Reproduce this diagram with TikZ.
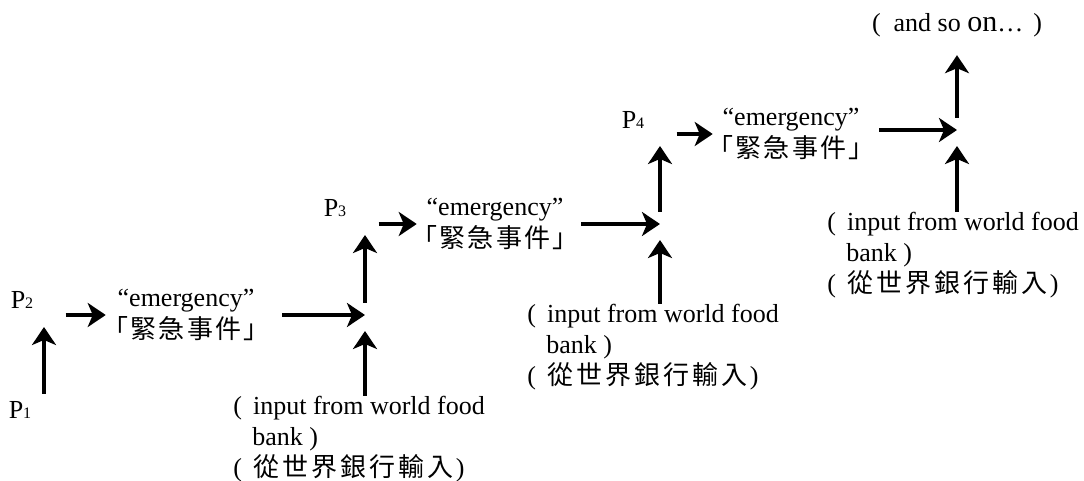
\documentclass[tikz,border=0pt]{standalone}
\usepackage{fontspec}
\setmainfont{Liberation Serif}
\newfontfamily\cjk[LetterSpace=9]{Noto Sans CJK TC}
\newfontfamily\cjkwide[LetterSpace=12]{Noto Sans CJK TC}
\usetikzlibrary{arrows.meta,positioning,calc}

\begin{document}
\begin{tikzpicture}[
    x=0.5pt, y=-0.5pt,
    arr/.style={-{Stealth[length=9pt, width=12pt, inset=2.5pt]}, line width=2pt},
    plabel/.style={font=\fontsize{13}{15}\selectfont, inner sep=1pt},
    event/.style={font=\fontsize{13}{16}\selectfont, align=center, inner sep=1pt},
    foodin/.style={font=\fontsize{13}{15.5}\selectfont, align=left, inner sep=0pt, anchor=north west},
]
\useasboundingbox (0,0) rectangle (1084,481);

\node[plabel] (p1) at (20,410) {P{\footnotesize 1}};
\node[plabel] (p2) at (22,300) {P{\footnotesize 2}};
\node[event] (em1) at (186,315) {“emergency”\\{\cjk 「緊急事件」}};
\coordinate (j1) at (365,315);
\node[foodin] (in1) at (233,396) {(\hspace{5.5pt}input from world food\\\hspace*{9.5pt}bank )\\(\hspace{5.5pt}{\cjkwide 從世界銀行輸入}\hspace{1pt})};

\node[plabel] (p3) at (335,208) {P{\footnotesize 3}};
\node[event] (em2) at (495,224) {“emergency”\\{\cjk 「緊急事件」}};
\coordinate (j2) at (660,224);
\node[foodin] (in2) at (527,304) {(\hspace{5.5pt}input from world food\\\hspace*{9.5pt}bank )\\(\hspace{5.5pt}{\cjkwide 從世界銀行輸入}\hspace{1pt})};

\node[plabel] (p4) at (633,120) {P{\footnotesize 4}};
\node[event] (em3) at (791,134) {“emergency”\\{\cjk 「緊急事件」}};
\coordinate (j3) at (957,130);
\node[foodin] (in3) at (827,212) {(\hspace{5.5pt}input from world food\\\hspace*{9.5pt}bank )\\(\hspace{5.5pt}{\cjkwide 從世界銀行輸入}\hspace{1pt})};

\node[plabel] (more) at (957,25) {(\hspace{6.5pt}and so {\fontsize{15}{15}\selectfont on}…\hspace{5pt})};

\draw[arr] ($(p1)+(24,-16)$) -- ($(p2)+(22,27)$);
\draw[arr, shorten <=15pt, shorten >=-3pt] (p2.east |- em1.west) -- (em1.west);
\draw[arr, shorten <=5pt] (em1) -- (j1);
\draw[arr] (j1 |- in1.north) -- ($(j1)+(0,16)$);
\draw[arr, shorten <=6pt] (j1) -- ($(j1)+(0,-80)$);

\draw[arr, shorten <=15pt, shorten >=-4pt] (p3.east |- em2.west) -- (em2.west);
\draw[arr] (em2) -- (j2);
\draw[arr] (j2 |- in2.north) -- ($(j2)+(0,16)$);
\draw[arr, shorten <=6pt] (j2) -- ($(j2)+(0,-78)$);

\draw[arr, shorten <=15pt, shorten >=-4pt] (p4.east |- em3.west) -- (em3.west);
\draw[arr, shorten <=1pt] (em3.east |- j3) -- (j3);
\draw[arr] (j3 |- in3.north) -- ($(j3)+(0,16)$);
\draw[arr, shorten <=6pt, shorten >=8pt] (j3) -- (j3 |- more.south);
\end{tikzpicture}
\end{document}
